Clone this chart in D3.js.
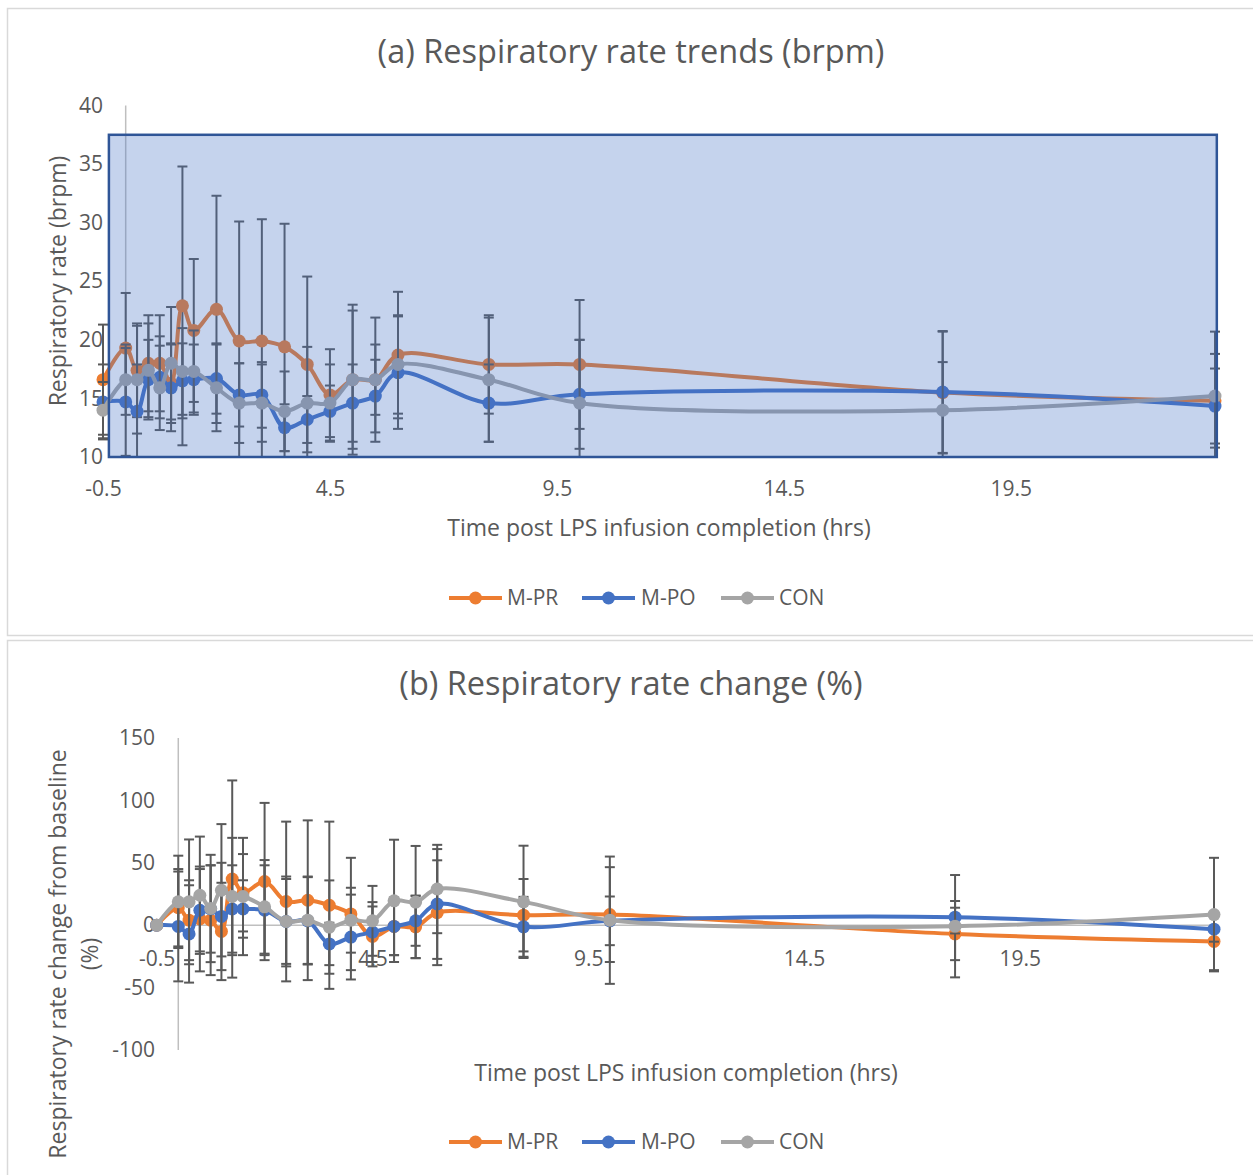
<!DOCTYPE html>
<html>
<head>
<meta charset="utf-8">
<script src="https://cdn.jsdelivr.net/npm/d3@7"></script>
<style>
  html, body { margin: 0; padding: 0; background: #fff; }
  svg text { font-family: "Open Sans", "Noto Sans", sans-serif; fill: #595959; }
</style>
</head>
<body>
<svg id="chart" width="1253" height="1175"></svg>
<script>
// Sampling times (hours after LPS infusion completion)
const times = [-0.5, 0, 0.25, 0.5, 0.75, 1, 1.25, 1.5, 2, 2.5, 3, 3.5, 4, 4.5, 5, 5.5, 6, 8, 10, 18, 24];

// Panel (a): respiratory rate, breaths per minute (mean and SD)
const rateMPR = [16.6, 19.3, 17.4, 18.0, 18.0, 16.3, 22.9, 20.8, 22.6, 19.9, 19.9, 19.4, 17.9, 15.3, 16.6, 16.6, 18.7, 17.9, 17.9, 15.5, 14.8];
const rateMPO = [14.7, 14.7, 13.9, 16.6, 16.8, 15.9, 16.5, 16.6, 16.7, 15.3, 15.3, 12.5, 13.2, 13.9, 14.6, 15.2, 17.2, 14.6, 15.35, 15.55, 14.35];
const rateCON = [14.0, 16.6, 16.6, 17.4, 15.9, 18.0, 17.3, 17.3, 15.9, 14.6, 14.6, 13.9, 14.6, 14.6, 16.6, 16.6, 17.9, 16.6, 14.6, 14.0, 15.2];
const sdRateMPR = [4.7, 4.7, 4.0, 4.1, 4.1, 3.4, 11.9, 6.1, 9.7, 10.2, 10.4, 10.5, 7.5, 3.9, 6.4, 5.3, 5.4, 4.2, 5.5, 5.2, 4.0];
const sdRateMPO = [3.2, 4.6, 4.0, 3.4, 3.5, 3.7, 3.2, 3.0, 3.0, 2.7, 2.8, 2.0, 2.0, 2.2, 3.3, 3.1, 4.8, 3.3, 4.65, 5.2, 3.2];
const sdRateCON = [2.4, 3.0, 4.6, 4.0, 3.6, 4.8, 3.7, 3.5, 3.7, 3.4, 3.3, 3.4, 4.8, 3.3, 5.9, 3.0, 4.2, 5.3, 5.4, 4.1, 5.5];

// Panel (b): change from baseline, percent (mean and SD)
const pctMPR = [0, 14, 4, 5, 4, -5, 37, 26, 35, 19, 20, 16, 9, -9, -1, -1.3, 10, 8, 8.5, -7, -13];
const pctMPO = [0, -1, -7, 12, 13, 7, 13, 13, 12, 3, 3.5, -15, -9.5, -5.5, -1, 3.5, 17, -1.3, 3.5, 6.4, -3.2];
const pctCON = [0, 18.7, 18.7, 24, 13.4, 28, 23, 23, 14.7, 3, 4, -1.5, 4, 3.5, 19.5, 18.5, 29, 18.7, 4, -0.8, 8.5];
const sdPctMPR = [0, 31, 32, 42, 44, 39, 79, 31, 63, 64, 64, 67, 45, 24, 23, 25, 42, 29, 38, 21, 23];
const sdPctMPO = [0, 44, 39, 33, 35, 43, 35, 23, 36, 36, 35, 17, 34, 24, 23, 20, 44, 24, 19.5, 13, 10];
const sdPctCON = [0, 37, 50, 47, 43, 53, 47, 47, 37.5, 34, 35, 37.4, 26, 28, 49, 45, 35.4, 45, 51, 41, 45.5];

// Tick labels
const xTicks = [-0.5, 4.5, 9.5, 14.5, 19.5];
const yTicksRate = [10, 15, 20, 25, 30, 35, 40];
const yTicksPct = [-100, -50, 0, 50, 100, 150];

const seriesNames = ["M-PR", "M-PO", "CON"];
const seriesColors = ["#ED7D31", "#4472C4", "#A5A5A5"];

const svg = d3.select("#chart");
const fmt = d => String(d);

// Chart frames
svg.append("rect").attr("x", 7.5).attr("y", 8.5).attr("width", 1250).attr("height", 627)
  .attr("fill", "#fff").attr("stroke", "#D9D9D9").attr("stroke-width", 1.5);
svg.append("rect").attr("x", 7.5).attr("y", 640.5).attr("width", 1250).attr("height", 540)
  .attr("fill", "#fff").attr("stroke", "#D9D9D9").attr("stroke-width", 1.5);

function buildRows(vals, sds) {
  return times.map((t, i) => ({ t, v: vals[i], sd: sds[i] }));
}

function drawSeries(g, x, y, rows, color, clipId) {
  const capW = 5;
  const eb = g.append("g").attr("clip-path", `url(#${clipId})`);
  rows.filter(d => d.sd > 0).forEach(d => {
    const cx = x(d.t), y1 = y(d.v + d.sd), y2 = y(d.v - d.sd);
    eb.append("line").attr("x1", cx).attr("x2", cx).attr("y1", y1).attr("y2", y2)
      .attr("stroke", "#595959").attr("stroke-width", 2);
    [y1, y2].forEach(yy => eb.append("line").attr("x1", cx - capW).attr("x2", cx + capW)
      .attr("y1", yy).attr("y2", yy).attr("stroke", "#595959").attr("stroke-width", 2));
  });
  const line = d3.line().x(d => x(d.t)).y(d => y(d.v)).curve(d3.curveCatmullRom.alpha(0.5));
  g.append("path").datum(rows).attr("d", line).attr("fill", "none")
    .attr("stroke", color).attr("stroke-width", 4).attr("stroke-linejoin", "round");
  g.selectAll(null).data(rows).enter().append("circle")
    .attr("cx", d => x(d.t)).attr("cy", d => y(d.v)).attr("r", 6.5).attr("fill", color);
}

function drawLegend(yPos) {
  const items = [
    { lx: 449, tx: 507 },
    { lx: 582, tx: 641 },
    { lx: 721, tx: 779 }
  ];
  seriesNames.forEach((name, i) => {
    const it = items[i];
    svg.append("line").attr("x1", it.lx).attr("x2", it.lx + 53).attr("y1", yPos).attr("y2", yPos)
      .attr("stroke", seriesColors[i]).attr("stroke-width", 4);
    svg.append("circle").attr("cx", it.lx + 26.5).attr("cy", yPos).attr("r", 6.5).attr("fill", seriesColors[i]);
    svg.append("text").attr("x", it.tx).attr("y", yPos).attr("dy", "0.35em")
      .style("font-size", "21px").text(name);
  });
}

function styleAxis(g) {
  g.select(".domain").remove();
  g.selectAll(".tick line").remove();
  g.selectAll("text").style("font-size", "21px").style("fill", "#595959")
    .style("font-family", "'Open Sans', 'Noto Sans', sans-serif");
}

// ---------- Panel (a) ----------
{
  const x = d3.scaleLinear().domain([-0.5, 24]).range([103, 1215]);
  const y = d3.scaleLinear().domain([10, 40]).range([457, 105.5]);

  const defs = svg.append("defs");
  defs.append("clipPath").attr("id", "clipA").append("rect")
    .attr("x", 80).attr("y", y(40)).attr("width", 1160).attr("height", y(10) - y(40));

  svg.append("text").attr("x", 631).attr("y", 52).attr("dy", "0.35em").attr("text-anchor", "middle")
    .style("font-size", "32.5px").text("(a) Respiratory rate trends (brpm)");

  svg.append("g").attr("transform", "translate(106,0)")
    .call(d3.axisLeft(y).tickValues(yTicksRate).tickSize(0).tickPadding(3).tickFormat(fmt))
    .call(styleAxis);
  svg.append("g").attr("transform", `translate(0,${y(10)})`)
    .call(d3.axisBottom(x).tickValues(xTicks).tickSize(0).tickPadding(24).tickFormat(fmt))
    .call(styleAxis);

  // vertical value axis crossing at t = 0
  svg.append("line").attr("x1", x(0)).attr("x2", x(0)).attr("y1", y(40)).attr("y2", y(10))
    .attr("stroke", "#BFBFBF").attr("stroke-width", 1.5);

  const g = svg.append("g");
  [[rateMPR, sdRateMPR], [rateMPO, sdRateMPO], [rateCON, sdRateCON]].forEach((s, i) =>
    drawSeries(g, x, y, buildRows(s[0], s[1]), seriesColors[i], "clipA"));

  // translucent highlight over the plot area
  svg.append("rect")
    .attr("x", x(-0.37)).attr("y", y(37.5))
    .attr("width", x(24.04) - x(-0.37)).attr("height", y(10) - y(37.5))
    .attr("fill", "#4472C4").attr("fill-opacity", 0.31)
    .attr("stroke", "#2F5597").attr("stroke-width", 2.5);

  svg.append("text").attr("transform", "translate(58,281) rotate(-90)").attr("dy", "0.35em")
    .attr("text-anchor", "middle").style("font-size", "23px").text("Respiratory rate (brpm)");
  svg.append("text").attr("x", 659).attr("y", 528).attr("dy", "0.35em").attr("text-anchor", "middle")
    .style("font-size", "23px").text("Time post LPS infusion completion (hrs)");

  drawLegend(598);
}

// ---------- Panel (b) ----------
{
  const x = d3.scaleLinear().domain([-0.5, 24]).range([156.7, 1214]);
  const y = d3.scaleLinear().domain([-100, 150]).range([1050, 738]);

  svg.select("defs").append("clipPath").attr("id", "clipB").append("rect")
    .attr("x", 130).attr("y", y(150)).attr("width", 1110).attr("height", y(-100) - y(150));

  svg.append("text").attr("x", 631).attr("y", 684).attr("dy", "0.35em").attr("text-anchor", "middle")
    .style("font-size", "32.5px").text("(b) Respiratory rate change (%)");

  svg.append("g").attr("transform", "translate(158,0)")
    .call(d3.axisLeft(y).tickValues(yTicksPct).tickSize(0).tickPadding(3).tickFormat(fmt))
    .call(styleAxis);

  // axis lines
  svg.append("line").attr("x1", x(0)).attr("x2", x(0)).attr("y1", y(150)).attr("y2", y(-100))
    .attr("stroke", "#BFBFBF").attr("stroke-width", 1.5);
  svg.append("line").attr("x1", x(-0.5)).attr("x2", x(24)).attr("y1", y(0)).attr("y2", y(0))
    .attr("stroke", "#BFBFBF").attr("stroke-width", 1.5);

  svg.append("g").attr("transform", `translate(0,${y(0)})`)
    .call(d3.axisBottom(x).tickValues(xTicks).tickSize(0).tickPadding(26).tickFormat(fmt))
    .call(styleAxis);

  const g = svg.append("g");
  [[pctMPR, sdPctMPR], [pctMPO, sdPctMPO], [pctCON, sdPctCON]].forEach((s, i) =>
    drawSeries(g, x, y, buildRows(s[0], s[1]), seriesColors[i], "clipB"));

  const yt = svg.append("text").attr("transform", "translate(58,954) rotate(-90)")
    .attr("text-anchor", "middle").style("font-size", "23px");
  yt.append("tspan").attr("x", 0).attr("dy", "0.35em").text("Respiratory rate change from baseline");
  yt.append("tspan").attr("x", 0).attr("dy", "1.4em").text("(%)");

  svg.append("text").attr("x", 686).attr("y", 1073).attr("dy", "0.35em").attr("text-anchor", "middle")
    .style("font-size", "23px").text("Time post LPS infusion completion (hrs)");

  drawLegend(1142);
}
</script>
</body>
</html>
